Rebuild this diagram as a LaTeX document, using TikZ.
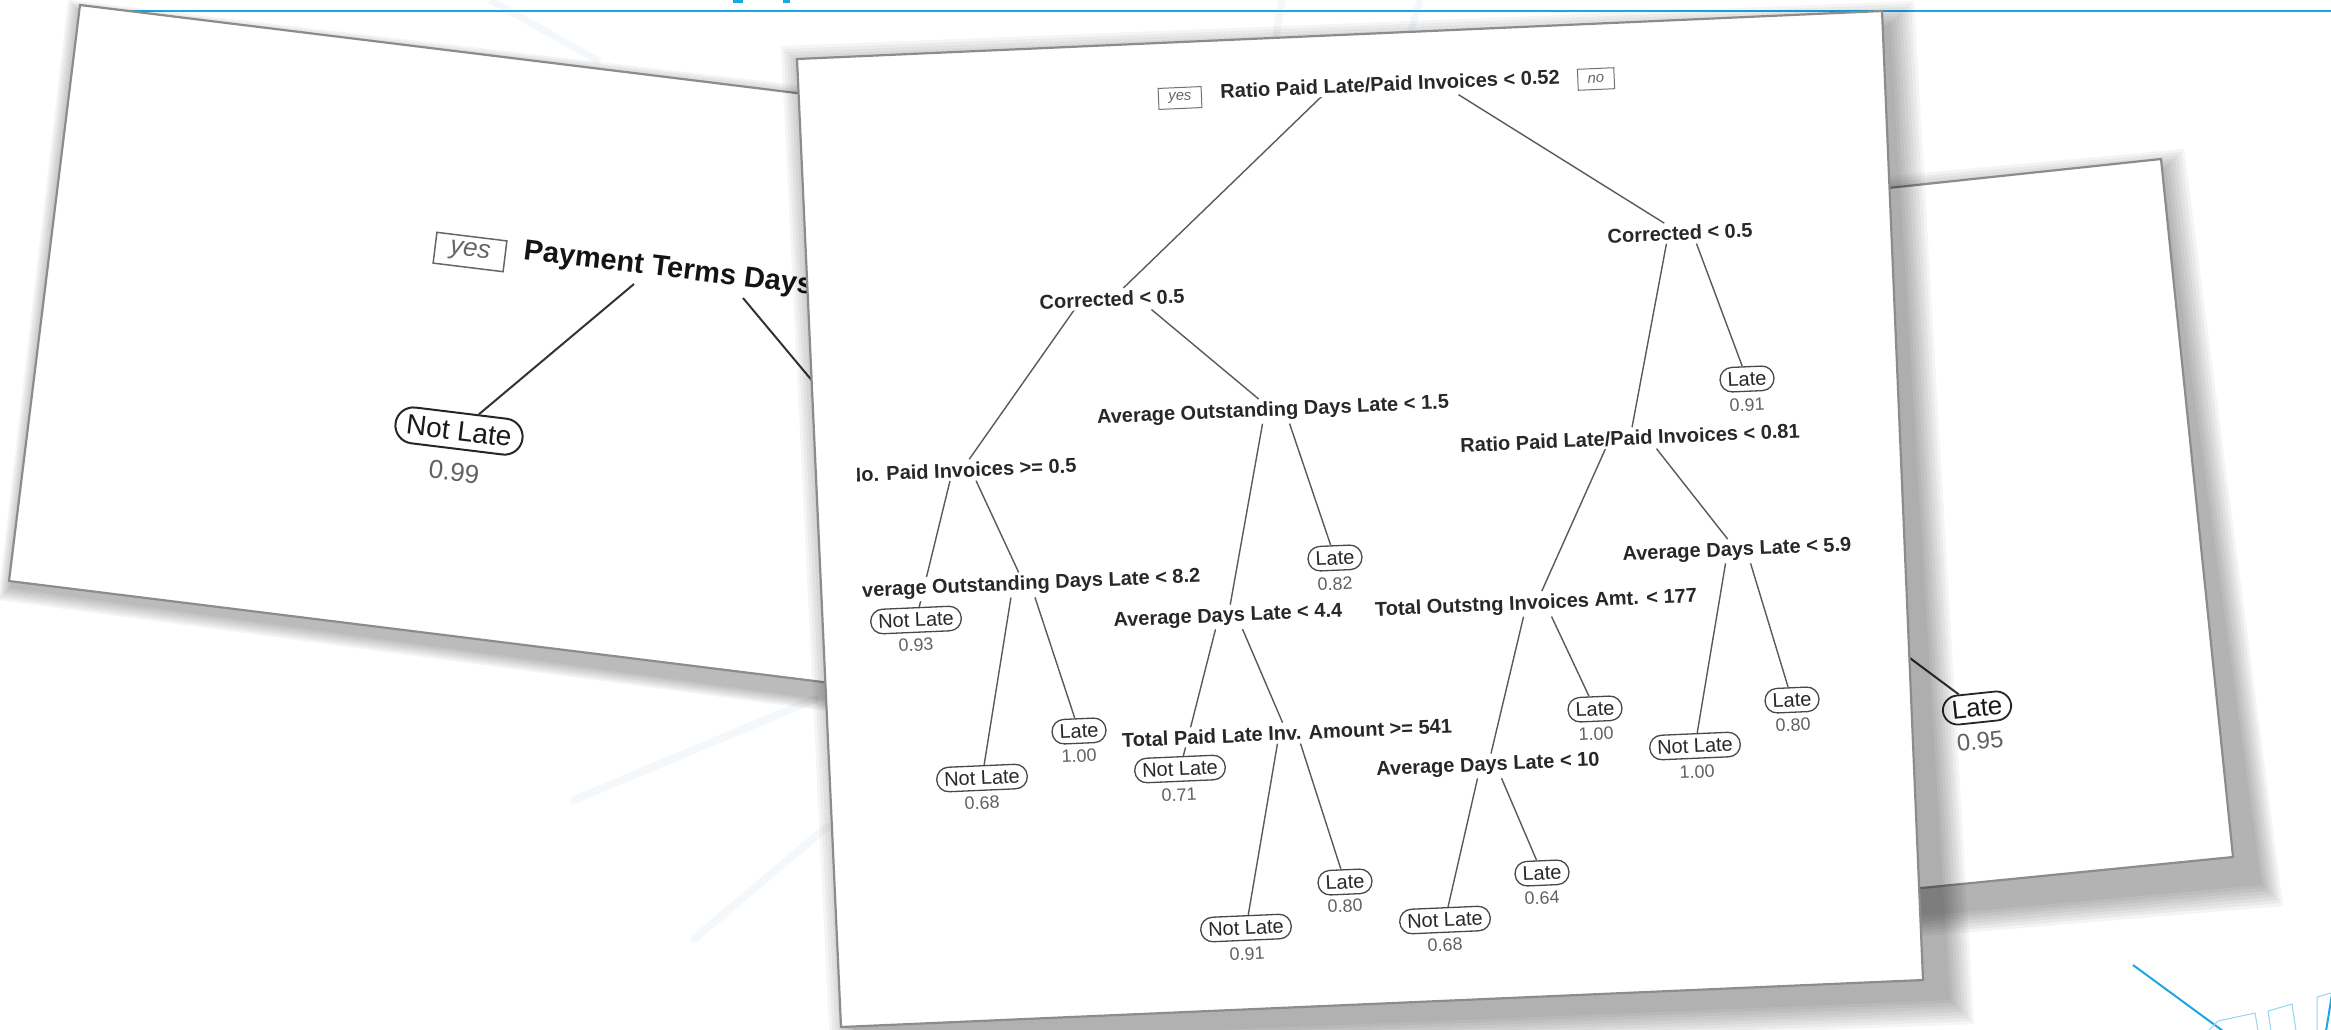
\documentclass[tikz,border=0pt]{standalone}
\usepackage{fontspec}
\setmainfont{Liberation Sans}
\usetikzlibrary{calc}
\pgfdeclarelayer{bg}
\pgfdeclarelayer{edges}
\pgfsetlayers{bg,edges,main}

\definecolor{brandblue}{RGB}{27,167,228}
\definecolor{lightblue}{RGB}{150,212,240}
\definecolor{faintray}{RGB}{244,248,251}
\definecolor{sheetedge}{RGB}{140,140,140}
\definecolor{treeink}{RGB}{40,40,40}
\definecolor{treeline}{RGB}{90,90,90}

\tikzset{
  sheet/.style={fill=white, draw=sheetedge, line width=0.22mm, line join=miter},
  splitlbl/.style={font=\fontsize{5.69pt}{6.8pt}\selectfont\bfseries, text=treeink, fill=white, inner xsep=0.2mm, inner ysep=0.25mm, rotate=2.5},
  leafbox/.style={font=\fontsize{5.69pt}{6.8pt}\selectfont, text=treeink, draw=treeink!85, line width=0.13mm, rounded corners=1.2mm, fill=white, inner xsep=0.75mm, inner ysep=0.3mm, minimum height=2.45mm, rotate=2.5},
  vallbl/.style={font=\fontsize{5.1pt}{6pt}\selectfont, text=black!62, inner sep=0.3mm, rotate=2.5},
  yesno/.style={font=\fontsize{4.2pt}{5pt}\selectfont\itshape, text=black!60, draw=black!55, line width=0.1mm, inner xsep=1.0mm, inner ysep=0.3mm, minimum height=2.1mm, rotate=2.5},
  tedge/.style={draw=treeline, line width=0.14mm},
  bigedge/.style={draw=black!80, line width=0.2mm},
}

\begin{document}
\begin{tikzpicture}[x=0.1mm,y=-0.1mm]
\useasboundingbox (0,0) rectangle (2331,1029);

\begin{pgfonlayer}{bg}
  % faint background rays
  \draw[faintray, line width=0.8mm, line cap=round] (574,800) -- (815,699);
  \draw[faintray, line width=0.8mm, line cap=round] (694,939) -- (827,827);
  \draw[faintray, line width=0.7mm] (490,0) -- (600,62);
  \draw[faintray, line width=0.7mm] (1282,0) -- (1272,60);
  \draw[faintray, line width=0.7mm] (1420,0) -- (1402,60);
  % top brand line and cut-off title descenders
  \draw[brandblue, line width=0.2mm] (100,10.5) -- (2331,10.5);
  \fill[brandblue] (733,0) rectangle (743,3);
  \fill[brandblue] (783,0) rectangle (790,3);
  % bottom-right decoration
  \draw[brandblue, line width=0.2mm] (2133,965) -- (2223,1031);
  \draw[lightblue, line width=0.1mm] (2208,1031) -- (2218,1021) -- (2255,1013) -- (2258,1031);
  \draw[lightblue, line width=0.1mm] (2271,1031) -- (2268,1011) -- (2292,1004) -- (2296,1031);
  \draw[lightblue, line width=0.1mm] (2317,1031) -- (2317,997) -- (2331,993);
  \draw[brandblue, line width=0.2mm] (2326,1031) -- (2333,988);

  % ---- right sheet ----
  \foreach \d in {0,3,...,21} {
    \fill[black, opacity=0.045] (1710-\d,215-\d) -- (2163+\d,170-\d) -- (2262+\d,885+\d) -- (1710-\d,935+\d) -- cycle;
  }
  \draw[sheet] (1700,208) -- (2161,159) -- (2233,857) -- (1700,910) -- cycle;
  \coordinate (hidR) at (1848,612);
  \node[font=\fontsize{7.4pt}{8.5pt}\selectfont, text=black!90, draw=black!85, line width=0.18mm, rounded corners=1.5mm, fill=white, inner xsep=0.9mm, inner ysep=0.3mm, minimum height=2.9mm, rotate=6] (l95) at (1977,708) {Late};
  \node[font=\fontsize{6.8pt}{8pt}\selectfont, text=black!62, rotate=6, inner sep=0.3mm] (v95) at (1980,741) {0.95};
  \draw[bigedge] (hidR) -- (l95);

  % ---- left sheet ----
  \foreach \d in {0,2,...,12} {
    \fill[black, opacity=0.045] (80-\d,12-\d) -- (1000+\d,122-\d) -- (1000+\d,724+\d) -- (10-\d,588+\d) -- cycle;
  }
  \draw[sheet] (80,5) -- (1000,118) -- (1000,704) -- (9,581) -- cycle;
  \node[font=\fontsize{7.4pt}{8.5pt}\selectfont\itshape, text=black!60, draw=black!60, line width=0.15mm, inner xsep=1.5mm, inner ysep=0.5mm, minimum height=3.1mm, rotate=-7] (yesL) at (470,252) {yes};
  \node[font=\fontsize{8.25pt}{9.5pt}\selectfont\bfseries, text=black!92, anchor=west, inner sep=0.2mm, rotate=-7] (pay) at (521,252) {Payment Terms Days};
  \node[font=\fontsize{7.97pt}{9pt}\selectfont, text=black!90, draw=black!85, line width=0.2mm, rounded corners=1.8mm, fill=white, inner xsep=1.1mm, inner ysep=0.4mm, minimum height=3.6mm, rotate=-7] (nl99) at (459,431) {Not Late};
  \node[font=\fontsize{7.4pt}{8.5pt}\selectfont, text=black!62, inner sep=0.3mm, rotate=-7] (v99) at (454,472) {0.99};
  \coordinate (hidL) at (875,456);
  \draw[bigedge] ($(pay.west)+(113,32)$) -- (nl99);
  \draw[bigedge] ($(pay.west)+(222,46)$) -- (hidL);

  % ---- centre sheet ----
  \foreach \d in {0,3,...,24} {
    \fill[black, opacity=0.04] (805-\d,70-\d) -- (1890+\d,25-\d) -- (1950+\d,1000+\d) -- (855-\d,1045+\d) -- cycle;
  }
  \draw[sheet] (797,59) -- (1882,11) -- (1923,980) -- (841,1027) -- cycle;
\end{pgfonlayer}

% ---- centre tree nodes ----
\begin{scope}
  \clip (837,40) -- (1900,0) -- (1950,1029) -- (882,1029) -- cycle;
  \node[yesno] (yes) at (1180,98) {yes};
  \node[splitlbl] (root) at (1390,84) {Ratio Paid Late/Paid Invoices < 0.52};
  \node[yesno] (no) at (1596,79) {no};
  \node[splitlbl] (c1) at (1112,299) {Corrected < 0.5};
  \node[splitlbl] (c2) at (1680,233) {Corrected < 0.5};
  \node[splitlbl] (a15) at (1273,411) {Average Outstanding Days Late < 1.5};
  \node[splitlbl, anchor=east] (np) at (1079,465) {No. Paid Invoices >= 0.5};
  \node[leafbox] (l91) at (1747,379) {Late};
  \node[vallbl] (v91a) at (1747,405) {0.91};
  \node[splitlbl] (r81) at (1630,438) {Ratio Paid Late/Paid Invoices < 0.81};
  \node[splitlbl, anchor=east] (a82) at (1203,577) {Average Outstanding Days Late < 8.2};
  \node[leafbox] (nl93) at (916,620) {Not Late};
  \node[vallbl] (v93) at (916,645) {0.93};
  \node[leafbox] (l82) at (1335,558) {Late};
  \node[vallbl] (v82) at (1335,584) {0.82};
  \node[splitlbl] (ad44) at (1228,617) {Average Days Late < 4.4};
  \node[splitlbl] (ad59) at (1737,551) {Average Days Late < 5.9};
  \node[splitlbl] (to177) at (1536,604) {Total Outstng Invoices Amt. < 177};
  \node[leafbox] (l100a) at (1079,731) {Late};
  \node[vallbl] (v100a) at (1079,756) {1.00};
  \node[leafbox] (nl68a) at (982,778) {Not Late};
  \node[vallbl] (v68a) at (982,803) {0.68};
  \node[splitlbl] (tp541) at (1287,733) {Total Paid Late Inv. Amount >= 541};
  \node[leafbox] (nl71) at (1180,769) {Not Late};
  \node[vallbl] (v71) at (1179,795) {0.71};
  \node[leafbox] (l80a) at (1345,882) {Late};
  \node[vallbl] (v80a) at (1345,906) {0.80};
  \node[leafbox] (nl91) at (1246,928) {Not Late};
  \node[vallbl] (v91b) at (1247,954) {0.91};
  \node[leafbox] (l100b) at (1595,709) {Late};
  \node[vallbl] (v100b) at (1596,734) {1.00};
  \node[splitlbl] (ad10) at (1488,766) {Average Days Late < 10};
  \node[leafbox] (l64) at (1542,873) {Late};
  \node[vallbl] (v64) at (1542,898) {0.64};
  \node[leafbox] (nl68b) at (1445,920) {Not Late};
  \node[vallbl] (v68b) at (1445,945) {0.68};
  \node[leafbox] (l80b) at (1792,700) {Late};
  \node[vallbl] (v80b) at (1793,725) {0.80};
  \node[leafbox] (nl100) at (1695,746) {Not Late};
  \node[vallbl] (v100c) at (1697,772) {1.00};
\end{scope}

% ---- centre tree edges ----
\begin{pgfonlayer}{edges}
  \draw[tedge] ($(root.south)+(-67,0)$) -- (c1);
  \draw[tedge] ($(root.south)+(68,0)$) -- (c2);
  \draw[tedge] ($(c1.south)+(-38,0)$) -- (np);
  \draw[tedge] ($(c1.south)+(39,0)$) -- (a15);
  \draw[tedge] ($(c2.south)+(-14,0)$) -- (r81);
  \draw[tedge] ($(c2.south)+(16,0)$) -- (l91);
  \draw[tedge] ($(np.south)+(-12,0)$) -- (nl93);
  \draw[tedge] ($(np.south)+(14,0)$) -- (a82);
  \draw[tedge] ($(a15.south)+(-11,0)$) -- (ad44);
  \draw[tedge] ($(a15.south)+(16,0)$) -- (l82);
  \draw[tedge] ($(r81.south)+(-25,0)$) -- (to177);
  \draw[tedge] ($(r81.south)+(26,0)$) -- (ad59);
  \draw[tedge] ($(a82.south)+(-14,0)$) -- (nl68a);
  \draw[tedge] ($(a82.south)+(10,0)$) -- (l100a);
  \draw[tedge] ($(ad44.south)+(-13,0)$) -- (nl71);
  \draw[tedge] ($(ad44.south)+(14,0)$) -- (tp541);
  \draw[tedge] ($(to177.south)+(-13,0)$) -- (ad10);
  \draw[tedge] ($(to177.south)+(15,0)$) -- (l100b);
  \draw[tedge] ($(ad59.south)+(-12,0)$) -- (nl100);
  \draw[tedge] ($(ad59.south)+(13,0)$) -- (l80b);
  \draw[tedge] ($(tp541.south)+(-10,0)$) -- (nl91);
  \draw[tedge] ($(tp541.south)+(13,0)$) -- (l80a);
  \draw[tedge] ($(ad10.south)+(-11,0)$) -- (nl68b);
  \draw[tedge] ($(ad10.south)+(13,0)$) -- (l64);
\end{pgfonlayer}
\end{tikzpicture}
\end{document}
